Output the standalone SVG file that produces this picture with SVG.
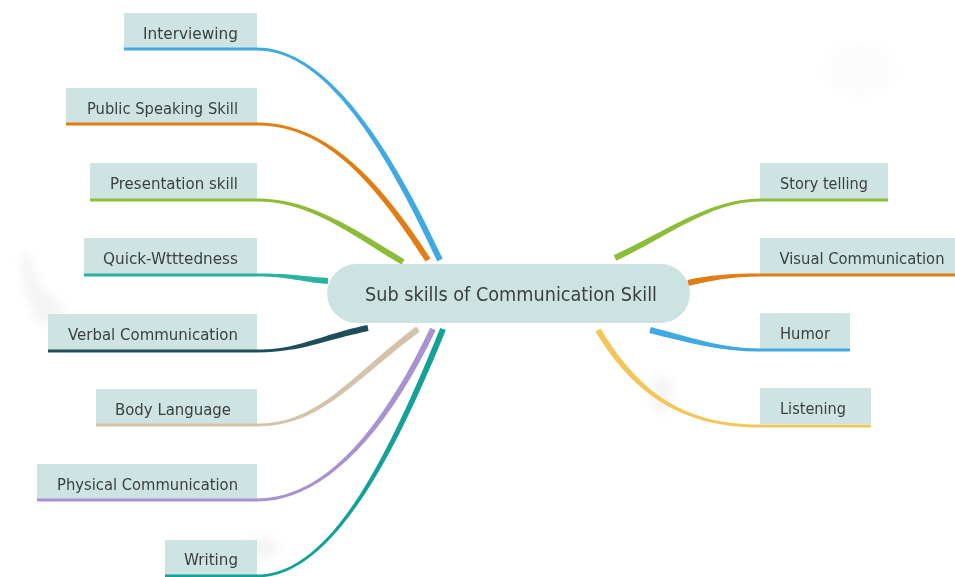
<svg xmlns="http://www.w3.org/2000/svg" width="955" height="577" viewBox="0 0 955 577">
  <defs>
    <style>
      .box { fill: #cde4e2; }
      .hub { fill: #cde3e1; }
      .lbl { font-family: "DejaVu Sans", "Liberation Sans", sans-serif; font-size: 16.5px; fill: #3a3f3f; text-anchor: middle; }
      .hubtxt { font-family: "DejaVu Sans", "Liberation Sans", sans-serif; font-size: 19px; fill: #3a3f3f; text-anchor: middle; }
      .stain { fill: #cfcfca; }
    </style>
    <filter id="soft" x="-50%" y="-50%" width="200%" height="200%">
      <feGaussianBlur stdDeviation="5"/>
    </filter>
  </defs>

  <rect width="955" height="577" fill="#ffffff"/>

  <!-- faint watercolour wash in the background -->
  <g filter="url(#soft)" opacity="0.22">
    <path class="stain" d="M22,250 C40,262 30,290 58,300 C70,312 50,330 38,322 C30,300 18,290 22,250 Z"/>
    <ellipse class="stain" cx="262" cy="548" rx="16" ry="11"/>
    <ellipse class="stain" cx="662" cy="395" rx="10" ry="18"/>
    <ellipse class="stain" cx="860" cy="70" rx="36" ry="26" opacity="0.25"/>
  </g>

  <!-- tapered branches from the central topic -->
  <g id="connectors">
    <path fill="#3fa9e2" d="M257,50.5 C320,50.5 377.3,131.3 437.3,261.3 L442.7,258.7 C382.7,128.7 320,47.5 257,47.5 Z"/>
    <path fill="#e07d13" d="M257,125.5 C320,125.5 367.5,171.6 425.5,261.6 L430.5,258.4 C372.5,168.4 320,122.5 257,122.5 Z"/>
    <path fill="#8dbd38" d="M257,201.5 C310,201.5 348.45,232.57 401.45,264.57 L404.55,259.43 C351.55,227.43 310,198.5 257,198.5 Z"/>
    <path fill="#2bb3a1" d="M257,276.5 C290,276.5 299.8,282 327.8,284 L328.2,278 C300.2,276 290,273.5 257,273.5 Z"/>
    <path fill="#1e4e58" d="M257,352.5 C300,352.5 320.6,340.9 368.6,330.9 L367.4,325.1 C319.4,335.1 300,349.5 257,349.5 Z"/>
    <path fill="#d5c2aa" d="M257,426.5 C320,426.5 351.8,382.4 419.8,331.4 L416.2,326.6 C348.2,377.6 320,423.5 257,423.5 Z"/>
    <path fill="#a892d2" d="M257,501.5 C320,501.5 382.7,441.3 435.7,330.3 L430.3,327.7 C377.3,438.7 320,498.5 257,498.5 Z"/>
    <path fill="#14a196" d="M257,577.5 C330,577.5 392.8,461.1 445.8,330.1 L440.2,327.9 C387.2,458.9 330,574.5 257,574.5 Z"/>
    <path fill="#8dbd38" d="M760,198.5 C710,198.5 663.75,232.28 613.75,255.28 L616.25,260.72 C666.25,237.72 710,201.5 760,201.5 Z"/>
    <path fill="#e07d13" d="M760,273.5 C730,273.5 709.33,275.07 687.33,280.07 L688.67,285.93 C710.67,280.93 730,276.5 760,276.5 Z"/>
    <path fill="#3fa9e2" d="M760,348.5 C720,348.5 690.73,337.09 650.73,327.09 L649.27,332.91 C689.27,342.91 720,351.5 760,351.5 Z"/>
    <path fill="#f3c65c" d="M760,424.5 C690,424.5 642.57,398.46 600.57,328.46 L595.43,331.54 C637.43,401.54 690,427.5 760,427.5 Z"/>
  </g>

  <!-- central topic -->
  <g id="hub">
    <rect class="hub" x="327" y="264" width="363" height="59" rx="29.5"/>
    <text class="hubtxt" x="511" y="301" textLength="292" lengthAdjust="spacingAndGlyphs">Sub skills of Communication Skill</text>
  </g>

  <!-- left-hand subtopics -->
  <g id="interviewing">
    <rect class="box" x="124" y="13" width="133" height="35"/>
    <rect x="124" y="47.5" width="133" height="3" fill="#3fa9e2"/>
    <text class="lbl" x="190.5" y="38.5" textLength="95" lengthAdjust="spacingAndGlyphs">Interviewing</text>
  </g>
  <g id="public-speaking">
    <rect class="box" x="66" y="88" width="191" height="35"/>
    <rect x="66" y="122.5" width="191" height="3" fill="#e07d13"/>
    <text class="lbl" x="162.5" y="113.5" textLength="151" lengthAdjust="spacingAndGlyphs">Public Speaking Skill</text>
  </g>
  <g id="presentation">
    <rect class="box" x="90" y="163" width="167" height="36"/>
    <rect x="90" y="198.5" width="167" height="3" fill="#8dbd38"/>
    <text class="lbl" x="174" y="189" textLength="128" lengthAdjust="spacingAndGlyphs">Presentation skill</text>
  </g>
  <g id="quick-wittedness">
    <rect class="box" x="84" y="238" width="173" height="36"/>
    <rect x="84" y="273.5" width="173" height="3" fill="#2bb3a1"/>
    <text class="lbl" x="170.5" y="264" textLength="135" lengthAdjust="spacingAndGlyphs">Quick-Wtttedness</text>
  </g>
  <g id="verbal">
    <rect class="box" x="48" y="314" width="209" height="36"/>
    <rect x="48" y="349.5" width="209" height="3" fill="#1e4e58"/>
    <text class="lbl" x="153" y="339.5" textLength="170" lengthAdjust="spacingAndGlyphs">Verbal Communication</text>
  </g>
  <g id="body-language">
    <rect class="box" x="96" y="389" width="161" height="35"/>
    <rect x="96" y="423.5" width="161" height="3" fill="#d5c2aa"/>
    <text class="lbl" x="173" y="414.5" textLength="116" lengthAdjust="spacingAndGlyphs">Body Language</text>
  </g>
  <g id="physical">
    <rect class="box" x="37" y="464" width="220" height="35"/>
    <rect x="37" y="498.5" width="220" height="3" fill="#a892d2"/>
    <text class="lbl" x="147.5" y="489.5" textLength="181" lengthAdjust="spacingAndGlyphs">Physical Communication</text>
  </g>
  <g id="writing">
    <rect class="box" x="165" y="540" width="92" height="35"/>
    <rect x="165" y="574.5" width="92" height="3" fill="#14a196"/>
    <text class="lbl" x="211" y="565" textLength="54" lengthAdjust="spacingAndGlyphs">Writing</text>
  </g>

  <!-- right-hand subtopics -->
  <g id="story-telling">
    <rect class="box" x="760" y="163" width="128" height="36"/>
    <rect x="760" y="198.5" width="128" height="3" fill="#8dbd38"/>
    <text class="lbl" x="824" y="189" textLength="88" lengthAdjust="spacingAndGlyphs">Story telling</text>
  </g>
  <g id="visual">
    <rect class="box" x="760" y="238" width="195" height="36"/>
    <rect x="760" y="273.5" width="195" height="3" fill="#e07d13"/>
    <text class="lbl" x="862" y="264" style="font-size:15.5px" textLength="165" lengthAdjust="spacingAndGlyphs">Visual Communication</text>
  </g>
  <g id="humor">
    <rect class="box" x="760" y="313" width="90" height="36"/>
    <rect x="760" y="348.5" width="90" height="3" fill="#3fa9e2"/>
    <text class="lbl" x="805" y="339" textLength="50" lengthAdjust="spacingAndGlyphs">Humor</text>
  </g>
  <g id="listening">
    <rect class="box" x="760" y="388" width="111" height="36"/>
    <rect x="760" y="424.5" width="111" height="3" fill="#f3c65c"/>
    <text class="lbl" x="813" y="414" textLength="66" lengthAdjust="spacingAndGlyphs">Listening</text>
  </g>
</svg>
